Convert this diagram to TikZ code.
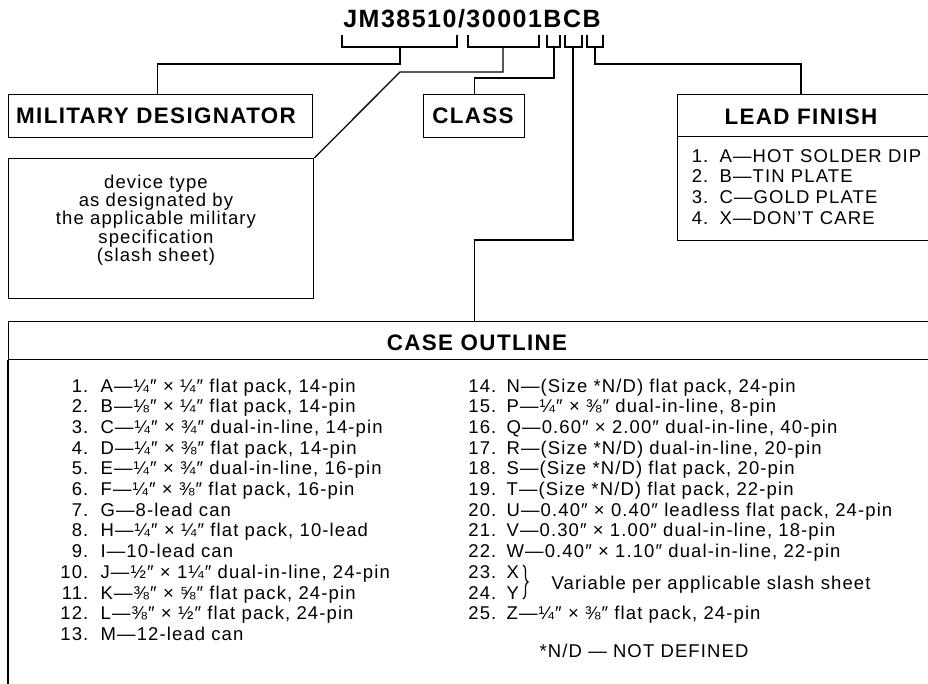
\documentclass[tikz,border=0pt]{standalone}
\usepackage{fontspec}
\setmainfont{Liberation Sans}[LetterSpace=6]
\usetikzlibrary{decorations.pathreplacing}
\begin{document}
\begin{tikzpicture}[x=1pt,y=-1pt, line width=1.3pt,
  box/.style={draw, inner sep=0pt, anchor=north west},
  head/.style={font=\fontsize{22.4}{26}\selectfont\bfseries, anchor=base, inner sep=0pt},
  body/.style={font=\fontsize{18.5}{20}\selectfont, inner sep=0pt},
  num/.style={body, anchor=base east},
  txt/.style={body, anchor=base west}]
\useasboundingbox (0,0) rectangle (928,684);
\clip (0,0) rectangle (928,684);

% boxes
\node[box, minimum width=304pt, minimum height=43pt] (md) at (8,94) {};
\node[box, minimum width=101pt, minimum height=43pt] (cls) at (423,94) {};
\node[box, minimum width=260pt, minimum height=42pt] (leadh) at (677,94) {};
\node[box, minimum width=260pt, minimum height=104pt] (leadb) at (677,136) {};
\node[box, minimum width=305pt, minimum height=140pt] (desc) at (8,158) {};
\node[box, minimum width=960pt, minimum height=38pt] (caseh) at (8,321) {};
\draw (caseh.south west) -- (8,700);

% titles
\node[head, font=\fontsize{25}{30}\selectfont\bfseries] (title) at (472,28) {JM38510/30001BCB};
\node[head] (mdt) at (156,124) {MILITARY DESIGNATOR};
\node[head] (clt) at (473,124) {CLASS};
\node[head] (lft) at (801,124.5) {LEAD FINISH};
\node[head] (cot) at (477,350) {CASE OUTLINE};

% brackets under the part number
\foreach \a/\b/\m [count=\k] in {342/457/400, 468/539/503, 547/560/554, 565/582/573, 587/603/595} {
  \draw (\a,35) |- (\b,47) -- (\b,35);
  \coordinate (k\k) at (\m,47);
}

% connectors
\draw (k1) -- ++(0,17) -| ([xshift=-3pt]md.north);
\draw (k2) -- ++(0,25) -- ++(-103,0) -- (desc.north east);
\draw (k3) -- ++(0,31) -| (cls.north);
\draw (k4) -- ++(0,193) -| (cls.north |- caseh.north);
\draw (k5) -- ++(0,17) -| ([xshift=124pt]leadh.north west);

% device type text
\foreach \t [count=\i] in {device type, as designated by, the applicable military, specification, (slash sheet)}
  \node[body, anchor=base] (d\i) at (156, {188.3+18.35*(\i-1)}) {\t};

% lead finish list
\foreach \t [count=\i] in {{A—HOT SOLDER DIP}, {B—TIN PLATE}, {C—GOLD PLATE}, {X—DON'T CARE}} {
  \node[num] (ln\i) at (709, {162.3+20.6*(\i-1)}) {\i.};
  \node[txt] (lt\i) at (719, {162.3+20.6*(\i-1)}) {\t};
}

% case outline, left column
\foreach \t [count=\i] in {
  {A—¼″ × ¼″ flat pack, 14-pin},
  {B—⅛″ × ¼″ flat pack, 14-pin},
  {C—¼″ × ¾″ dual-in-line, 14-pin},
  {D—¼″ × ⅜″ flat pack, 14-pin},
  {E—¼″ × ¾″ dual-in-line, 16-pin},
  {F—¼″ × ⅜″ flat pack, 16-pin},
  {G—8-lead can},
  {H—¼″ × ¼″ flat pack, 10-lead},
  {I—10-lead can},
  {J—½″ × 1¼″ dual-in-line, 24-pin},
  {K—⅜″ × ⅝″ flat pack, 24-pin},
  {L—⅜″ × ½″ flat pack, 24-pin},
  {M—12-lead can}} {
  \node[num] (cn\i) at (89, {392+20.7*(\i-1)}) {\i.};
  \node[txt] (ct\i) at (100, {392+20.7*(\i-1)}) {\t};
}

% case outline, right column
\foreach \t [count=\i from 14] in {
  {N—(Size *N/D) flat pack, 24-pin},
  {P—¼″ × ⅜″ dual-in-line, 8-pin},
  {Q—0.60″ × 2.00″ dual-in-line, 40-pin},
  {R—(Size *N/D) dual-in-line, 20-pin},
  {S—(Size *N/D) flat pack, 20-pin},
  {T—(Size *N/D) flat pack, 22-pin},
  {U—0.40″ × 0.40″ leadless flat pack, 24-pin},
  {V—0.30″ × 1.00″ dual-in-line, 18-pin},
  {W—0.40″ × 1.10″ dual-in-line, 22-pin},
  {X},
  {Y},
  {Z—¼″ × ⅜″ flat pack, 24-pin}} {
  \node[num] (cn\i) at (497, {392+20.7*(\i-14)}) {\i.};
  \node[txt] (ct\i) at (506, {392+20.7*(\i-14)}) {\t};
}

\draw[line width=1.2pt, decorate, decoration={brace, amplitude=5pt}] (523,565) -- (523,599);
\node[txt] (var) at (551,589) {Variable per applicable slash sheet};
\node[txt] (nd) at (539,657) {*N/D — NOT DEFINED};
\end{tikzpicture}
\end{document}
